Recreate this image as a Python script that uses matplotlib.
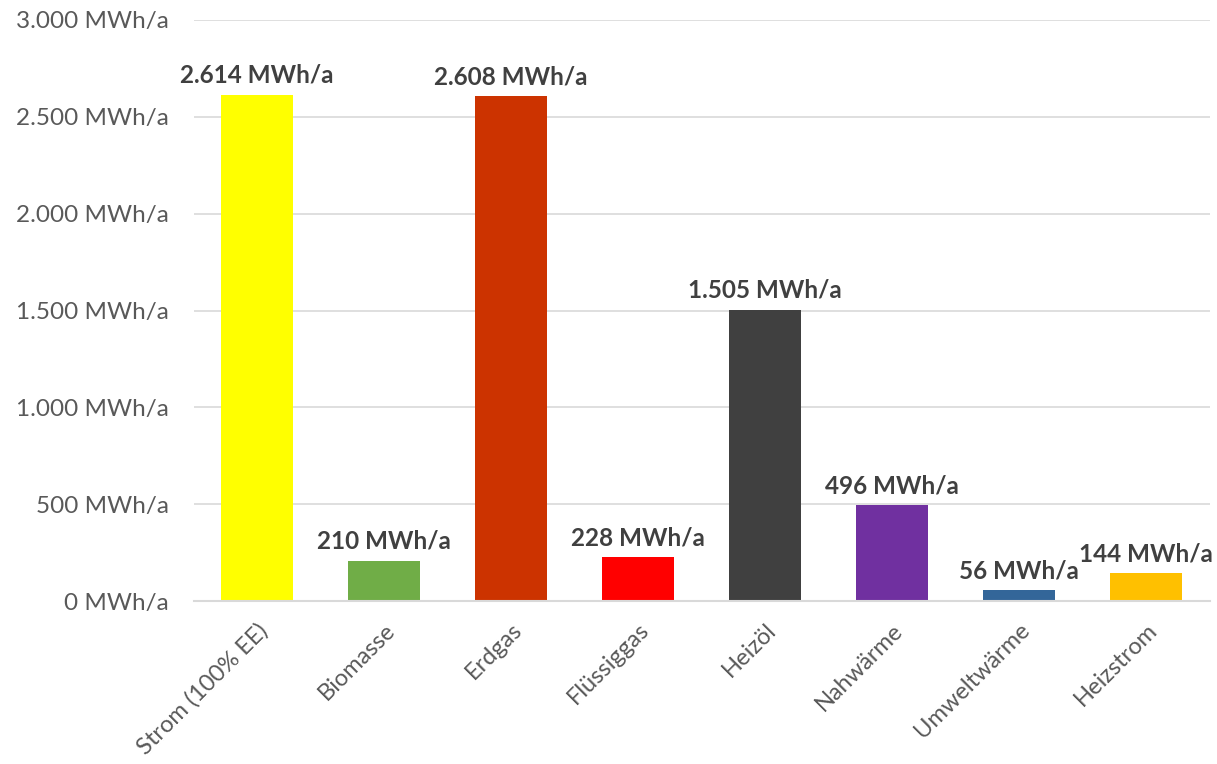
import matplotlib.pyplot as plt
from matplotlib.ticker import FuncFormatter

categories = ['Strom (100% EE)', 'Biomasse', 'Erdgas', 'Flüssiggas',
              'Heizöl', 'Nahwärme', 'Umweltwärme', 'Heizstrom']
values = [2614, 210, 2608, 228, 1505, 496, 56, 144]
colors = ['#FFFF00', '#70AD47', '#CC3300', '#FF0000',
          '#404040', '#7030A0', '#336699', '#FFC000']


def fmt_de(v):
    return f'{int(v):,}'.replace(',', '.') + ' MWh/a'


plt.rcParams['font.family'] = ['Lato', 'DejaVu Sans']

fig = plt.figure(figsize=(12.17, 7.64), dpi=100)
ax = fig.add_axes([0.159, 0.213, 0.835, 0.761])

x = range(len(categories))
ax.bar(x, values, width=0.57, color=colors, zorder=3)

for xi, v in zip(x, values):
    ax.text(xi, v + 40, fmt_de(v), ha='center', va='bottom',
            fontsize=17.5, fontweight='bold', color='#404040', zorder=4)

ax.set_ylim(0, 3000)
ax.set_xlim(-0.5, len(categories) - 0.5)
ax.set_yticks(range(0, 3001, 500))
ax.yaxis.set_major_formatter(FuncFormatter(lambda v, p: fmt_de(v)))
ax.yaxis.grid(True, color='#D9D9D9', linewidth=1.2, zorder=0)

ax.set_xticks(list(x))
ax.set_xticklabels(categories, rotation=45, ha='right', rotation_mode='anchor')

ax.tick_params(axis='both', length=0, labelsize=17.5, labelcolor='#595959')
ax.tick_params(axis='x', labelsize=17, pad=13)
ax.tick_params(axis='y', pad=18)

for s in ['top', 'right', 'left']:
    ax.spines[s].set_visible(False)
ax.spines['bottom'].set_color('#D9D9D9')
ax.spines['bottom'].set_linewidth(1.5)
ax.spines['bottom'].set_zorder(4)

fig.savefig('out.png', dpi=100)
